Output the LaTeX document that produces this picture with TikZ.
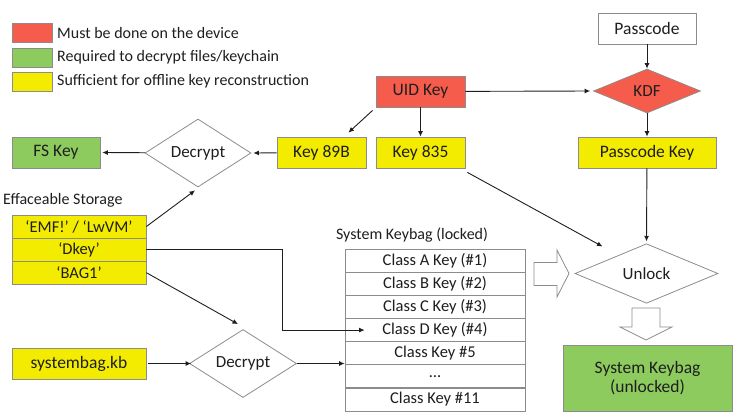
\documentclass[tikz,border=0pt]{standalone}
\usepackage{fontspec}
\setmainfont{Carlito}
\usetikzlibrary{arrows.meta,shapes.geometric,positioning}
\definecolor{devred}{HTML}{F65C4C}
\definecolor{keygreen}{HTML}{8DCB5F}
\definecolor{offyellow}{HTML}{F4EC00}
\definecolor{edgegray}{HTML}{8C8C8C}
\definecolor{inkblack}{HTML}{1E1E1E}

\begin{document}
\begin{tikzpicture}[x = 1pt, y = -1pt, >={Latex[length=5.5pt,width=5pt]},
  box/.style = {draw = edgegray, line width = .8pt, minimum height = 31pt, inner sep = 0pt, text = inkblack, font = \fontsize{17.5}{19}\selectfont},
  redbox/.style = {box, fill = devred},
  greenbox/.style = {box, fill = keygreen},
  yellowbox/.style = {box, fill = offyellow},
  swatch/.style = {draw = edgegray, line width = .8pt, minimum width = 40pt, minimum height = 19pt, inner sep = 0pt},
  legendtext/.style = {anchor = west, inner sep = 0pt, text = inkblack, font = \fontsize{16}{18}\selectfont},
  decision/.style = {diamond, draw = edgegray, line width = .8pt, inner sep = 0pt, text = inkblack, font = \fontsize{17}{19}\selectfont},
  row/.style = {draw = edgegray, line width = .8pt, minimum height = 23.1pt, inner sep = 0pt, text = inkblack, font = \fontsize{16.5}{18}\selectfont},
  caption/.style = {inner sep = 0pt, text = inkblack, font = \fontsize{16}{18}\selectfont},
  link/.style = {->, line width = .9pt, draw = inkblack},
  hollow/.style = {draw = edgegray, line width = .8pt, fill = white}]
\useasboundingbox (0,0) rectangle (739,416);

% legend
\node[swatch, fill = devred] (swred) at (32,33) {};
\node[swatch, fill = keygreen] (swgreen) at (32,57.5) {};
\node[swatch, fill = offyellow] (swyellow) at (32,81.5) {};
\node[legendtext] (lgred) at (57,33) {Must be done on the device};
\node[legendtext] (lggreen) at (57,57.5) {Required to decrypt files/keychain};
\node[legendtext] (lgyellow) at (57,81.5) {Sufficient for offline key reconstruction};

% keys
\node[box, fill = white, minimum width = 98pt] (passcode) at (647,28.5) {Passcode};
\node[decision, fill = devred, minimum width = 107pt, minimum height = 44pt] (kdf) at (647,91) {KDF};
\node[redbox, minimum width = 89pt] (uid) at (420.5,91.5) {UID Key};
\node[yellowbox, minimum width = 89pt] (k835) at (420.5,152.5) {Key 835};
\node[yellowbox, minimum width = 138pt] (pkey) at (647,152.5) {Passcode Key};
\node[yellowbox, minimum width = 89pt] (k89b) at (321.5,152.5) {Key 89B};
\node[decision, fill = white, minimum width = 106pt, minimum height = 45pt] (dec1) at (198,153) {Decrypt};
\node[greenbox, minimum width = 88pt] (fskey) at (56,152.5) {FS Key};

% effaceable storage
\node[caption, anchor = west] (efflabel) at (3,200) {Effaceable Storage};
\node[row, fill = offyellow, minimum width = 134pt] (emf) at (79,226.5) {`EMF!' / `LwVM'};
\node[row, fill = offyellow, minimum width = 134pt] (dkey) at (79,249.6) {`Dkey'};
\node[row, fill = offyellow, minimum width = 134pt] (bag) at (79,272.7) {`BAG1'};

\node[yellowbox, minimum width = 134pt] (sysbag) at (79,363.5) {systembag.kb};
\node[decision, fill = white, minimum width = 107pt, minimum height = 45pt] (dec2) at (243,363.5) {Decrypt};

% locked keybag
\node[caption] (baglabel) at (412,235) {System Keybag (locked)};
\foreach \i/\txt in {1/Class A Key (\#1), 2/Class B Key (\#2), 3/Class C Key (\#3), 4/Class D Key (\#4), 5/Class Key \#5, 6/\dots, 7/Class Key \#11}
  \node[row, fill = white, minimum width = 180pt] (row\i) at (435,237.5+23.14*\i) {\txt};

\node[decision, fill = white, minimum width = 143pt, minimum height = 57pt] (unlock) at (646.5,273.5) {Unlock};
\node[greenbox, minimum width = 169pt, minimum height = 66pt, align = center] (unlocked) at (647.5,378) {System Keybag\\(unlocked)};

% hollow arrows
\draw[hollow] (534,262.5) -- (557,262.5) -- (557,250) -- (569,273.5) -- (557,297) -- (557,285.5) -- (534,285.5) -- cycle;
\draw[hollow] (632,308) -- (660,308) -- (660,327) -- (672,327) -- (646,340) -- (620,327) -- (632,327) -- cycle;

% connectors
\draw[link] (passcode) -- (kdf);
\draw[link] (uid) -- ([xshift = -3pt]kdf.west);
\draw[link] (kdf) -- (pkey);
\draw[link] (uid) -- (k835);
\draw[link] ([shift = {(-3,3)}]uid.south west) -- ([shift = {(-18,-4)}]k89b.north east);
\draw[link] (k89b) -- ([xshift = 2pt]dec1.east);
\draw[link] (dec1) -- ([xshift = 2pt]fskey.east);
\draw[link] (emf.east) -- ([shift = {(-3,3)}]dec1.south);
\draw[link] ([shift = {(2,4)}]k835.south east) -- ([shift = {(-44,-27)}]unlock.center);
\draw[link] (pkey) -- ([yshift = 2pt]unlock.north);
\coordinate (dtip) at ([xshift = 20pt]row4.west);
\draw[link] (dkey.east) -| ([xshift = -82pt]dtip) -- (dtip);
\draw[link] (bag.east) -- ([shift = {(-5,-5)}]dec2.north);
\draw[link] ([xshift = 2pt]sysbag.east) -- ([xshift = 2pt]dec2.west);
\draw[link] (dec2.east) -- (dec2.east -| row5.west);
\end{tikzpicture}
\end{document}
